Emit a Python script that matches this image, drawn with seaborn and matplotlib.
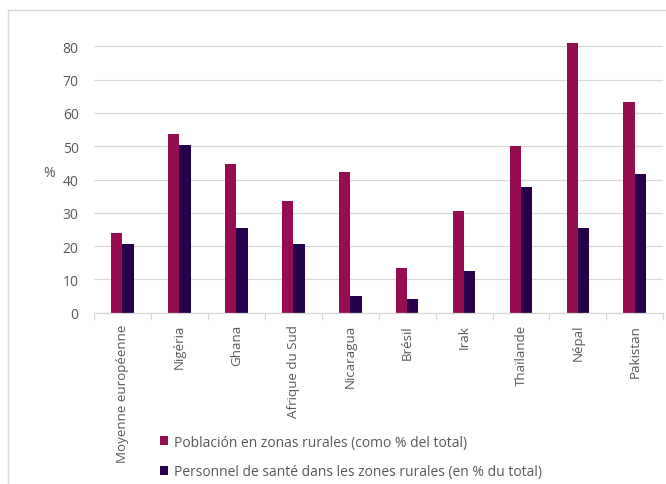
import numpy as np
import pandas as pd
import seaborn as sns
import matplotlib.pyplot as plt
from matplotlib.patches import Rectangle

countries = ["Moyenne européenne", "Nigéria", "Ghana", "Afrique du Sud", "Nicaragua",
             "Brésil", "Irak", "Thaïlande", "Népal", "Pakistan"]
rural_population = [24.0, 53.8, 44.6, 33.5, 42.3, 13.3, 30.5, 50.0, 81.0, 63.3]
rural_health_staff = [20.5, 50.4, 25.5, 20.5, 4.9, 4.1, 12.5, 37.7, 25.5, 41.6]
series_names = ["Población en zonas rurales (como % del total)",
                "Personnel de santé dans les zones rurales (en % du total)"]
y_ticks = [0, 10, 20, 30, 40, 50, 60, 70, 80]

df = pd.DataFrame({
    "pays": countries * 2,
    "valeur": rural_population + rural_health_staff,
    "serie": [series_names[0]] * len(countries) + [series_names[1]] * len(countries),
})

sns.set_theme(style="white")
plt.rcParams["font.family"] = ["Open Sans", "DejaVu Sans"]
text_color = "#595959"
grid_color = "#d9d9d9"

fig = plt.figure(figsize=(6.66, 4.85), dpi=100)
ax = fig.add_axes([0.141, 0.353, 0.855, 0.577])

# outer chart frame
fig.patches.append(Rectangle((8 / 666, -0.1), 1.2, 1 - 11 / 485 + 0.1,
                             transform=fig.transFigure, fill=False,
                             edgecolor=grid_color, linewidth=1.0, zorder=0))

sns.barplot(data=df, x="pays", y="valeur", hue="serie", order=countries,
            hue_order=series_names, palette=["#960C51", "#25004B"],
            width=0.4, gap=0, saturation=1, linewidth=0, ax=ax, legend=True)

ax.set_ylim(0, 84)
ax.set_xlim(-0.5, len(countries) - 0.5)
ax.set_yticks(y_ticks)
ax.set_yticklabels([str(t) for t in y_ticks], fontsize=10, color=text_color)
ax.yaxis.grid(True, color=grid_color, linewidth=0.9)
ax.set_axisbelow(True)
ax.tick_params(axis="y", length=0, pad=11)

ax.set_xticks(range(len(countries)))
ax.set_xticklabels(countries, rotation=90, fontsize=9.6, color=text_color)
ax.set_xticks(np.arange(-0.5, len(countries), 1.0), minor=True)
ax.tick_params(axis="x", which="major", length=0, pad=8)
ax.tick_params(axis="x", which="minor", length=5, color=grid_color, width=0.9,
               direction="out", bottom=True)

for side in ["top", "right", "left"]:
    ax.spines[side].set_visible(False)
ax.spines["bottom"].set_color(grid_color)
ax.spines["bottom"].set_linewidth(0.9)

ax.set_xlabel("")
ax.set_ylabel("%", rotation=0, fontsize=10, color=text_color)
ax.yaxis.set_label_coords(-0.078, 0.475)

handles, labels = ax.get_legend_handles_labels()
ax.get_legend().remove()
fig.legend(handles, labels, loc="upper left", bbox_to_anchor=(0.232, 0.113),
           frameon=False, fontsize=10, labelcolor=text_color, handlelength=0.6,
           handleheight=0.6, handletextpad=0.4, labelspacing=1.05,
           borderaxespad=0)

fig.savefig("out.png", dpi=100, facecolor="white")
